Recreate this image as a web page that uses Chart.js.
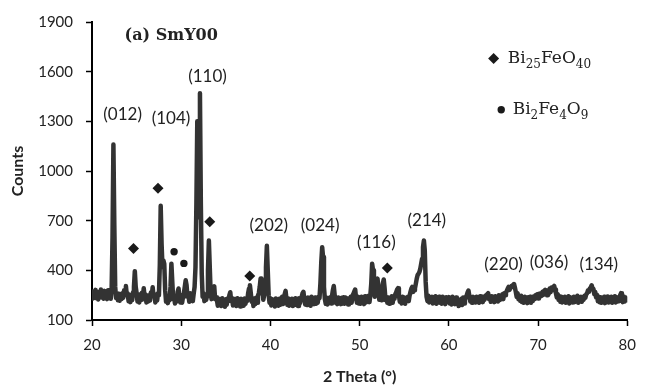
<!DOCTYPE html>
<html>
<head>
<meta charset="utf-8">
<title>XRD pattern - SmY00</title>
<script src="https://cdn.jsdelivr.net/npm/chart.js@4.4.1/dist/chart.umd.min.js"></script>
<style>
    html, body { margin: 0; padding: 0; background: #fff; }
    #wrap { width: 646px; height: 386px; }
</style>
</head>
<body>
<div id="wrap"><canvas id="xrdChart" width="646" height="386"></canvas></div>
<script>
// Scan: 2 theta from 20 to 80 deg, 0.1 deg per reading
const scanStart = 20;
const scanStep = 0.1;

// Counts, one row per degree (x.0 ... x.9)
const counts = [
    272, 230, 264, 238, 282, 232, 260, 224, 270, 244,   // 20
    284, 236, 266, 228, 276, 240, 262, 226, 280, 238,   // 21
    266, 228, 285, 600, 1160, 680, 300, 232, 262, 220,  // 22
    258, 216, 250, 226, 262, 234, 280, 262, 306, 250,   // 23
    262, 214, 246, 208, 252, 220, 268, 300, 395, 300,   // 24
    262, 212, 244, 206, 256, 222, 264, 240, 292, 236,   // 25
    254, 206, 244, 212, 250, 218, 266, 250, 298, 240,   // 26
    256, 206, 248, 218, 262, 250, 430, 790, 560, 420,   // 27
    460, 440, 280, 210, 240, 202, 232, 220, 300, 440,   // 28
    330, 226, 236, 200, 244, 212, 270, 290, 236, 206,   // 29
    250, 204, 240, 262, 300, 340, 310, 240, 256, 210,   // 30
    262, 222, 250, 214, 260, 300, 420, 800, 1300, 720,  // 31
    1100, 1470, 800, 380, 240, 262, 214, 252, 222, 246, // 32
    400, 580, 420, 262, 226, 262, 290, 304, 226, 238,   // 33
    222, 186, 228, 194, 220, 184, 232, 196, 218, 180,   // 34
    226, 192, 230, 214, 250, 268, 214, 230, 188, 224,   // 35
    190, 226, 184, 232, 196, 218, 182, 228, 190, 222,   // 36
    186, 230, 198, 224, 216, 262, 290, 310, 262, 210,   // 37
    226, 184, 230, 196, 234, 204, 246, 262, 300, 350,   // 38
    350, 280, 222, 250, 300, 420, 548, 400, 250, 204,   // 39
    232, 188, 226, 194, 222, 182, 230, 196, 224, 186,   // 40
    228, 192, 222, 240, 196, 236, 256, 276, 222, 192,   // 41
    230, 186, 224, 192, 228, 184, 220, 190, 232, 196,   // 42
    226, 184, 232, 200, 230, 240, 262, 270, 220, 194,   // 43
    230, 190, 236, 198, 224, 186, 240, 204, 228, 196,   // 44
    236, 198, 230, 204, 240, 232, 320, 450, 540, 480,   // 45
    300, 226, 198, 234, 194, 230, 206, 238, 200, 244,   // 46
    280, 305, 250, 204, 232, 196, 236, 200, 228, 196,   // 47
    234, 200, 238, 198, 236, 206, 230, 194, 232, 210,   // 48
    240, 204, 248, 258, 272, 284, 230, 204, 240, 200,   // 49
    232, 198, 240, 204, 228, 196, 244, 206, 230, 214,   // 50
    246, 208, 250, 320, 440, 400, 300, 240, 280, 330,   // 51
    350, 300, 222, 246, 220, 276, 320, 345, 290, 220,   // 52
    240, 204, 236, 198, 232, 210, 244, 204, 238, 228,   // 53
    256, 268, 284, 292, 250, 210, 234, 200, 240, 206,   // 54
    236, 198, 232, 218, 240, 214, 248, 270, 290, 300,   // 55
    270, 280, 292, 320, 350, 372, 380, 390, 410, 440,   // 56
    470, 540, 580, 520, 330, 240, 214, 246, 206, 236,   // 57
    212, 240, 200, 234, 208, 244, 198, 232, 210, 240,   // 58
    204, 236, 198, 240, 206, 232, 196, 238, 210, 230,   // 59
    238, 200, 226, 194, 240, 210, 228, 196, 236, 204,   // 60
    226, 184, 218, 196, 228, 190, 236, 200, 222, 236,   // 61
    248, 266, 278, 244, 212, 238, 204, 240, 210, 232,   // 62
    206, 240, 212, 236, 204, 244, 214, 238, 208, 240,   // 63
    222, 246, 250, 256, 262, 226, 240, 210, 244, 214,   // 64
    240, 208, 244, 216, 238, 212, 250, 220, 246, 226,   // 65
    256, 226, 262, 250, 266, 276, 290, 300, 282, 296,   // 66
    304, 300, 312, 318, 296, 270, 240, 262, 226, 244,   // 67
    216, 246, 208, 236, 204, 240, 210, 236, 202, 238,   // 68
    210, 240, 204, 236, 214, 242, 226, 250, 232, 256,   // 69
    230, 258, 240, 262, 246, 270, 252, 276, 282, 266,   // 70
    250, 280, 258, 290, 268, 296, 280, 300, 306, 284,   // 71
    262, 236, 256, 222, 244, 210, 240, 206, 236, 214,   // 72
    240, 204, 236, 210, 244, 200, 238, 212, 234, 206,   // 73
    240, 208, 232, 214, 246, 204, 236, 212, 240, 210,   // 74
    238, 222, 246, 234, 256, 262, 280, 270, 290, 296,   // 75
    310, 292, 288, 256, 270, 236, 252, 214, 240, 208,   // 76
    238, 204, 232, 212, 240, 202, 236, 214, 242, 206,   // 77
    234, 210, 240, 204, 236, 214, 244, 206, 238, 212,   // 78
    236, 214, 250, 262, 240, 208, 242, 212, 236, 230,   // 79
    220                                                 // 80
];

// Phase markers
const diamondTheta = [24.65, 27.4, 33.2, 37.68, 53.1];
const diamondCounts = [532, 896, 694, 366, 414];
const dotTheta = [29.2, 30.3];
const dotCounts = [512, 442];

// Peak (hkl) labels
const peakLabels = ['(012)', '(104)', '(110)', '(202)', '(024)', '(116)', '(214)', '(220)', '(036)', '(134)'];
const peakLabelTheta = [23.43, 28.86, 32.95, 39.82, 45.57, 51.88, 57.53, 66.13, 71.22, 76.8];
const peakLabelCounts = [1342, 1318, 1570, 670, 670, 568, 700, 436, 448, 436];

// Axis ticks
const xTickMin = 20, xTickMax = 80, xTickStep = 10;
const yTickMin = 100, yTickMax = 1900, yTickStep = 300;

// Legend (phase names with subscripts)
const phaseNames = [
    [['Bi', false], ['25', true], ['FeO', false], ['40', true]],
    [['Bi', false], ['2', true], ['Fe', false], ['4', true], ['O', false], ['9', true]]
];
const legendMarkerTheta = [65.02, 65.87];
const legendMarkerCounts = [1680, 1370];
const legendTextTheta = [66.6, 67.15];

const panelTitle = '(a) SmY00';
const panelTitleTheta = 23.65;
const panelTitleCounts = 1816;

const patternPoints = counts.map((c, i) => ({ x: +(scanStart + i * scanStep).toFixed(1), y: c }));
const diamondPoints = diamondTheta.map((t, i) => ({ x: t, y: diamondCounts[i] }));
const dotPoints = dotTheta.map((t, i) => ({ x: t, y: dotCounts[i] }));

// Text drawn inside the plot: hkl labels, panel title, phase legend
const xrdTextPlugin = {
    id: 'xrdText',
    afterDatasetsDraw(chart) {
        const { ctx } = chart;
        const x = chart.scales.x;
        const y = chart.scales.y;
        ctx.save();
        ctx.fillStyle = '#222';
        ctx.textBaseline = 'middle';

        ctx.textAlign = 'center';
        ctx.font = '17px Lato';
        peakLabels.forEach((label, i) => {
            ctx.fillText(label, x.getPixelForValue(peakLabelTheta[i]), y.getPixelForValue(peakLabelCounts[i]));
        });

        ctx.textAlign = 'left';
        ctx.font = 'bold 16px "DejaVu Serif"';
        ctx.fillText(panelTitle, x.getPixelForValue(panelTitleTheta), y.getPixelForValue(panelTitleCounts));

        phaseNames.forEach((parts, i) => {
            let px = x.getPixelForValue(legendTextTheta[i]);
            const py = y.getPixelForValue(legendMarkerCounts[i]);
            parts.forEach(([txt, sub]) => {
                ctx.font = sub ? '12px "DejaVu Serif"' : '17px "DejaVu Serif"';
                ctx.fillText(txt, px, sub ? py + 6 : py);
                px += ctx.measureText(txt).width;
            });
        });
        ctx.restore();
    }
};

const tickFont = { family: 'Lato', size: 15 };
const titleFont = { family: 'Lato', size: 16, weight: 'bold' };

new Chart(document.getElementById('xrdChart').getContext('2d'), {
    type: 'line',
    data: {
        datasets: [{
            label: 'SmY00',
            data: patternPoints,
            borderColor: '#333',
            borderWidth: 4.5,
            borderJoinStyle: 'round',
            borderCapStyle: 'round',
            pointRadius: 0,
            tension: 0,
            order: 3
        }, {
            type: 'scatter',
            label: 'Bi25FeO40',
            data: diamondPoints.concat([{ x: legendMarkerTheta[0], y: legendMarkerCounts[0] }]),
            pointStyle: 'rectRot',
            pointRadius: 5.5,
            backgroundColor: '#1a1a1a',
            borderWidth: 0,
            order: 1
        }, {
            type: 'scatter',
            label: 'Bi2Fe4O9',
            data: dotPoints.concat([{ x: legendMarkerTheta[1], y: legendMarkerCounts[1] }]),
            pointStyle: 'circle',
            pointRadius: 3.7,
            backgroundColor: '#1a1a1a',
            borderWidth: 0,
            order: 2
        }]
    },
    options: {
        responsive: false,
        animation: false,
        layout: { padding: { top: 19, right: 12, left: 0, bottom: 0 } },
        plugins: {
            legend: { display: false },
            tooltip: { enabled: false }
        },
        scales: {
            x: {
                type: 'linear',
                min: xTickMin,
                max: xTickMax,
                afterFit(scale) { scale.height = 66; },
                ticks: { stepSize: xTickStep, font: tickFont, color: '#222', padding: 10, format: { useGrouping: false } },
                grid: { drawOnChartArea: false, tickLength: 6, tickColor: '#000', tickWidth: 1.5 },
                border: { color: '#000', width: 2 },
                title: { display: true, text: '2 Theta (°)', font: titleFont, color: '#222', padding: 0 }
            },
            y: {
                min: yTickMin,
                max: yTickMax,
                afterFit(scale) { scale.width = 92; },
                ticks: { stepSize: yTickStep, font: tickFont, color: '#222', padding: 13, format: { useGrouping: false } },
                grid: { drawOnChartArea: false, tickLength: 6, tickColor: '#000', tickWidth: 1.5 },
                border: { color: '#000', width: 2 },
                title: { display: true, text: 'Counts', font: titleFont, color: '#222', padding: { top: 8 } }
            }
        }
    },
    plugins: [xrdTextPlugin]
});
</script>
</body>
</html>
